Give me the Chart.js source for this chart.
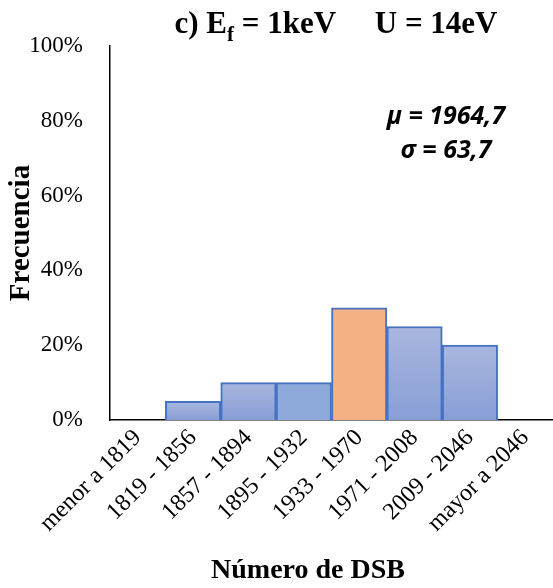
<!DOCTYPE html>
<html><head><meta charset="utf-8">
<script src="https://cdn.jsdelivr.net/npm/chart.js@4"></script>
<style>html,body{margin:0;padding:0;background:#fff}#c{display:block}</style>
</head><body>
<div style="width:553px;height:588px"><canvas id="c" width="553" height="588"></canvas></div>
<script>
const categories = ["menor a 1819","1819 - 1856","1857 - 1894","1895 - 1932","1933 - 1970","1971 - 2008","2009 - 2046","mayor a 2046"];
const frequencies = [0, 5, 10, 10, 30, 25, 20, 0];
const yTicks = [0, 20, 40, 60, 80, 100];
const statsLines = ["\u03bc = 1964,7", "\u03c3 = 63,7"];
const xTitle = "Número de DSB";
const yTitle = "Frecuencia";

const SERIF = "'Liberation Serif','Times New Roman',serif";

function barFill(ctx){
  const chart = ctx.chart;
  const i = ctx.dataIndex;
  if (i === 4) return '#f4b183';
  if (i === 3) return '#8eaadb';
  const ys = chart.scales.y;
  if (!ys || !chart.chartArea) return '#98aad9';
  const top = ys.getPixelForValue(frequencies[i]);
  const bot = ys.getPixelForValue(0);
  if (!isFinite(top) || !isFinite(bot) || top === bot) return '#98aad9';
  const g = chart.ctx.createLinearGradient(0, top, 0, bot);
  g.addColorStop(0, '#a9b7de');
  g.addColorStop(1, '#889ed6');
  return g;
}

const overlay = {
  id: 'overlay',
  afterDraw(chart){
    const c = chart.ctx;
    c.save();
    c.fillStyle = '#000';
    // Title with subscript
    const big = "bold 31px " + SERIF;
    const sub = "bold 21px " + SERIF;
    const parts = [["c) E", big, 0], ["f", sub, 8], [" = 1keV     U = 14eV", big, 0]];
    let total = 0;
    parts.forEach(p => { c.font = p[1]; total += c.measureText(p[0]).width; });
    let x = 336 - total/2;
    const base = 33;
    c.textBaseline = 'alphabetic';
    c.textAlign = 'left';
    parts.forEach(p => { c.font = p[1]; c.fillText(p[0], x, base + p[2]); x += c.measureText(p[0]).width; });
    // x axis title
    c.font = "bold 28px " + SERIF;
    c.textAlign = 'center';
    c.textBaseline = 'middle';
    c.fillText(xTitle, 308, 571);
    // stats
    c.font = "bold italic 25px 'Open Sans','Liberation Sans',sans-serif";
    c.fillText(statsLines[0], 446, 117);
    c.fillText(statsLines[1], 446, 151);
    c.restore();
  }
};

new Chart(document.getElementById('c'), {
  type: 'bar',
  data: {
    labels: categories,
    datasets: [{
      data: frequencies,
      backgroundColor: barFill,
      borderColor: '#4472c4',
      borderWidth: 2,
      borderSkipped: 'bottom',
      barPercentage: 1,
      categoryPercentage: 1
    }]
  },
  options: {
    responsive: false,
    animation: false,
    devicePixelRatio: 1,
    layout: { padding: { top: 46, right: 0, left: 0, bottom: 0 } },
    plugins: { legend: { display: false }, tooltip: { enabled: false }, title: { display: false } },
    scales: {
      x: {
        grid: { display: false, drawTicks: false },
        border: { display: true, color: '#000', width: 1.5 },
        ticks: { color: '#000', font: { family: SERIF, size: 24 }, minRotation: 45, maxRotation: 45, padding: 4, autoSkip: false },
        afterFit(s){ s.height = 168; }
      },
      y: {
        min: 0, max: 100,
        afterBuildTicks(s){ s.ticks = yTicks.map(v => ({ value: v })); },
        grid: { display: false, drawTicks: false },
        border: { display: true, color: '#000', width: 1.5 },
        ticks: { color: '#000', font: { family: SERIF, size: 23 }, padding: 27, callback: v => v + '%' },
        title: { display: true, text: yTitle, color: '#000', font: { family: SERIF, size: 29, weight: 'bold' }, padding: { top: 4, bottom: 0 } },
        afterFit(s){ s.width = 110; }
      }
    }
  },
  plugins: [overlay]
});
</script>
</body></html>
